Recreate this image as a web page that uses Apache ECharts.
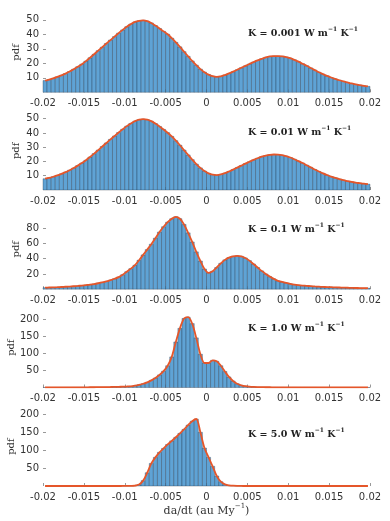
<!DOCTYPE html>
<html>
<head>
<meta charset="utf-8">
<script src="https://cdn.jsdelivr.net/npm/echarts@6/dist/echarts.min.js"></script>
<style>
html, body { margin: 0; padding: 0; background: #fff; }
#chart { width: 390px; height: 521px; }
</style>
</head>
<body>
<div id="chart"></div>
<script>
// histogram bins: 80 bins of width 0.0005 from -0.02 to 0.02
var binStart = -0.02;
var binWidth = 0.0005;

var xTicks = [-0.02, -0.015, -0.01, -0.005, 0, 0.005, 0.01, 0.015, 0.02];

// pdf per bin
var pdfK0001 = [8.1, 8.8, 9.6, 10.6, 11.7, 12.9, 14.3, 15.9, 17.6, 19.4,
    21.5, 23.8, 26.2, 28.7, 31.1, 33.6, 36.0, 38.4, 40.8, 43.0,
    45.2, 47.0, 48.5, 49.3, 49.6, 49.1, 47.8, 46.0, 44.0, 42.0,
    40.0, 37.3, 34.4, 31.3, 28.0, 24.8, 21.6, 18.7, 16.0, 13.9,
    12.2, 11.1, 10.7, 11.0, 11.9, 13.0, 14.2, 15.5, 16.9, 18.2,
    19.5, 20.8, 22.0, 23.1, 24.1, 24.7, 25.0, 25.0, 24.8, 24.3,
    23.5, 22.4, 21.1, 19.7, 18.3, 16.8, 15.3, 13.8, 12.5, 11.3,
    10.2, 9.2, 8.3, 7.5, 6.8, 6.1, 5.5, 5.0, 4.5, 4.1];

var pdfK001 = [7.9, 8.5, 9.3, 10.2, 11.3, 12.5, 13.9, 15.4, 17.1, 18.9,
    20.9, 23.1, 25.5, 28.0, 30.5, 33.0, 35.5, 37.9, 40.3, 42.6,
    44.8, 46.7, 48.3, 49.3, 49.7, 49.4, 48.3, 46.6, 44.6, 42.5,
    40.2, 37.6, 34.6, 31.4, 28.0, 24.6, 21.3, 18.2, 15.5, 13.3,
    11.7, 10.8, 10.5, 10.9, 11.8, 13.0, 14.3, 15.7, 17.1, 18.5,
    19.8, 21.1, 22.3, 23.4, 24.2, 24.7, 24.9, 24.8, 24.4, 23.7,
    22.8, 21.6, 20.3, 18.9, 17.4, 15.9, 14.4, 13.0, 11.7, 10.5,
    9.4, 8.5, 7.7, 6.9, 6.3, 5.7, 5.2, 4.8, 4.4, 4.1];

var pdfK01 = [2.0, 2.2, 2.4, 2.6, 2.9, 3.2, 3.5, 3.9, 4.3, 4.8,
    5.4, 6.0, 6.8, 7.8, 8.9, 10.2, 11.8, 13.7, 15.9, 19.0,
    23.0, 27.0, 31.5, 38.0, 45.0, 52.0, 59.0, 67.0, 75.0, 82.0,
    88.0, 92.5, 95.0, 92.5, 85.0, 74.0, 62.0, 49.0, 37.0, 26.5,
    21.5, 23.5, 28.5, 34.0, 38.5, 41.5, 43.2, 43.8, 43.2, 41.0,
    37.5, 33.0, 28.5, 24.0, 20.0, 16.5, 13.5, 11.0, 9.5, 8.2,
    7.0, 6.0, 5.3, 4.8, 4.4, 4.0, 3.6, 3.3, 3.0, 2.8,
    2.6, 2.4, 2.2, 2.0, 1.9, 1.7, 1.6, 1.5, 1.4, 1.3];

var pdfK1 = [0.3, 0.3, 0.3, 0.3, 0.4, 0.4, 0.4, 0.5, 0.5, 0.6,
    0.6, 0.7, 0.8, 0.9, 1.0, 1.2, 1.4, 1.7, 2.0, 2.4,
    2.9, 3.6, 5.5, 8.0, 11.0, 15.0, 21.0, 28.0, 37.0, 48.0,
    64.0, 90.0, 134.0, 174.0, 203.0, 207.0, 188.0, 146.0, 98.0, 72.0,
    72.0, 80.0, 77.0, 64.0, 47.0, 31.0, 19.0, 11.0, 6.5, 4.0,
    2.6, 1.8, 1.3, 1.0, 0.8, 0.7, 0.6, 0.5, 0.5, 0.4,
    0.4, 0.4, 0.3, 0.3, 0.3, 0.3, 0.3, 0.2, 0.2, 0.2,
    0.2, 0.2, 0.2, 0.2, 0.2, 0.2, 0.2, 0.2, 0.2, 0.2];

var pdfK5 = [0, 0, 0, 0, 0, 0, 0, 0, 0, 0,
    0, 0, 0, 0, 0, 0, 0, 0, 0, 0.1,
    0.2, 0.5, 1.2, 4.0, 15.0, 37.0, 63.0, 80.0, 94.0, 105.0,
    116.0, 126.0, 136.0, 147.0, 158.0, 170.0, 181.0, 187.0, 150.0, 106.0,
    80.0, 55.0, 28.0, 12.0, 4.5, 1.8, 0.8, 0.3, 0.1, 0,
    0, 0, 0, 0, 0, 0, 0, 0, 0, 0,
    0, 0, 0, 0, 0, 0, 0, 0, 0, 0,
    0, 0, 0, 0, 0, 0, 0, 0, 0, 0];

var kLabels = ['0.001', '0.01', '0.1', '1.0', '5.0'];
var yTicks = [
    [10, 20, 30, 40, 50],
    [10, 20, 30, 40, 50],
    [20, 40, 60, 80],
    [50, 100, 150, 200],
    [50, 100, 150, 200]
];

var panels = [
    {data: pdfK0001, top: 12.5, height: 79.8, max: 55, gap: 22, ly: 33},
    {data: pdfK001, top: 111.6, height: 78.4, max: 55, gap: 22, ly: 132},
    {data: pdfK01, top: 209.2, height: 80, max: 105, gap: 22, ly: 229},
    {data: pdfK1, top: 307.6, height: 79.9, max: 235, gap: 27, ly: 328},
    {data: pdfK5, top: 407.2, height: 78.8, max: 220, gap: 27, ly: 434}
];

var chart = echarts.init(document.getElementById('chart'));

var sansFont = 'DejaVu Sans';
var serifFont = 'DejaVu Serif';
var labelColor = '#333';

var grid = [], xAxis = [], yAxis = [], series = [], graphic = [];

panels.forEach(function (p, k) {
    grid.push({left: 43, right: 20, top: p.top, height: p.height, outerBoundsMode: 'none', containLabel: false});

    xAxis.push({
        type: 'value',
        gridIndex: k,
        min: -0.02,
        max: 0.02,
        interval: 0.005,
        axisLine: {show: false, onZero: false},
        splitLine: {show: false},
        axisTick: {show: true, inside: true, length: 3, customValues: xTicks, lineStyle: {color: '#999'}},
        axisLabel: {
            customValues: xTicks,
            margin: 6,
            fontFamily: sansFont,
            fontSize: 10,
            color: labelColor,
            formatter: function (v) { return String(+v.toFixed(3)); }
        },
        name: k === 4 ? '{n|da/dt (au My}{s|\u22121}{n|)}' : '',
        nameLocation: 'middle',
        nameGap: 17,
        nameMoveOverlap: false,
        nameTextStyle: {
            rich: {
                n: {fontFamily: serifFont, fontSize: 11, color: labelColor, lineHeight: 14, verticalAlign: 'bottom'},
                s: {fontFamily: serifFont, fontSize: 7, color: labelColor, lineHeight: 14, verticalAlign: 'top'}
            }
        }
    });

    yAxis.push({
        type: 'value',
        gridIndex: k,
        min: 0,
        max: p.max,
        axisLine: {show: false, onZero: false},
        splitLine: {show: false},
        axisTick: {show: true, inside: true, length: 3, customValues: yTicks[k], lineStyle: {color: '#999'}},
        axisLabel: {
            customValues: yTicks[k],
            margin: 4,
            fontFamily: sansFont,
            fontSize: 10,
            color: labelColor
        },
        name: 'pdf',
        nameLocation: 'middle',
        nameRotate: 90,
        nameGap: p.gap,
        nameMoveOverlap: false,
        nameTextStyle: {fontFamily: serifFont, fontSize: 10, color: labelColor}
    });

    // histogram bars
    var bars = p.data.map(function (v, i) {
        var x0 = binStart + i * binWidth;
        return [x0, x0 + binWidth, v];
    });
    series.push({
        type: 'custom',
        xAxisIndex: k,
        yAxisIndex: k,
        data: bars,
        silent: true,
        renderItem: function (params, api) {
            var v = api.value(2);
            if (v <= 0) return null;
            var a = api.coord([api.value(0), v]);
            var b = api.coord([api.value(1), 0]);
            return {
                type: 'rect',
                shape: {x: a[0], y: a[1], width: b[0] - a[0], height: b[1] - a[1]},
                style: {fill: '#5fa3d5', stroke: 'rgba(25,35,50,0.6)', lineWidth: 0.5}
            };
        }
    });

    // density line through bin centres
    series.push({
        type: 'line',
        xAxisIndex: k,
        yAxisIndex: k,
        data: p.data.map(function (v, i) { return [binStart + (i + 0.5) * binWidth, v]; }),
        smooth: 0.3,
        showSymbol: false,
        silent: true,
        z: 5,
        lineStyle: {color: '#e5562a', width: 1.8}
    });

    graphic.push({
        type: 'text',
        left: 248,
        top: p.ly - 7,
        silent: true,
        style: {
            text: '{b|K = ' + kLabels[k] + ' W m}{s|\u22121}{b| K}{s|\u22121}',
            rich: {
                b: {fontFamily: serifFont, fontWeight: 'bold', fontSize: 9.5, fill: '#222', lineHeight: 13, verticalAlign: 'bottom'},
                s: {fontFamily: serifFont, fontWeight: 'bold', fontSize: 6, fill: '#222', lineHeight: 13, verticalAlign: 'top'}
            }
        }
    });
});

var option = {
    animation: false,
    backgroundColor: '#fff',
    grid: grid,
    xAxis: xAxis,
    yAxis: yAxis,
    series: series,
    graphic: graphic
};

chart.setOption(option);
</script>
</body>
</html>
